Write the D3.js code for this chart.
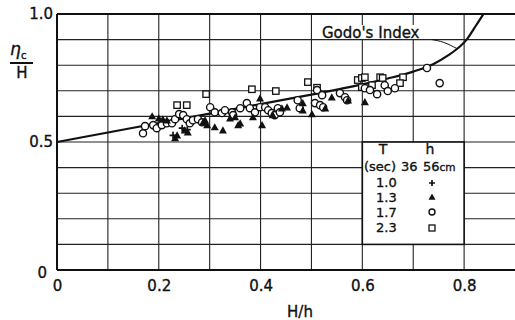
<!DOCTYPE html>
<html><head><meta charset="utf-8">
<script src="https://cdn.jsdelivr.net/npm/d3@7"></script>
<style>
body{margin:0;background:#fff}
svg{display:block}
text{font-family:"DejaVu Sans",sans-serif;fill:#111;stroke:#111;stroke-width:0.35px}
</style>
</head><body>
<svg id="c" width="515" height="320"></svg>
<script>
// ---- data ----
const xTicks = [0, 0.2, 0.4, 0.6, 0.8];
const yTicks = [0, 0.5, 1.0];
const gridX = [0.1,0.2,0.3,0.4,0.5,0.6,0.7,0.8];
const gridY = [0.1,0.2,0.3,0.4,0.5,0.6,0.7,0.8,0.9];

const periods = ["1.0", "1.3", "1.7", "2.3"];

// T = 1.0 s (+)
const plusPts = [[0.228,0.526],[0.246,0.554],[0.256,0.548]];
// T = 1.3 s (filled triangle)
const triPts = [[0.187,0.601],[0.200,0.593],[0.208,0.589],[0.216,0.585],[0.232,0.515],[0.236,0.526],
  [0.251,0.546],[0.257,0.538],[0.287,0.577],[0.291,0.585],[0.295,0.566],[0.310,0.558],[0.326,0.546],
  [0.340,0.593],[0.350,0.597],[0.356,0.566],[0.360,0.573],[0.385,0.597],[0.399,0.671],[0.403,0.566],
  [0.424,0.605],[0.442,0.632],[0.452,0.636],[0.483,0.652],[0.483,0.624],[0.501,0.609],[0.527,0.632],
  [0.540,0.675],[0.572,0.663],[0.605,0.656]];
// T = 1.7 s (open circle)
const circPts = [[0.173,0.562],[0.169,0.534],[0.189,0.566],[0.196,0.554],[0.206,0.566],[0.216,0.573],
  [0.226,0.573],[0.232,0.589],[0.240,0.609],[0.248,0.605],[0.255,0.589],[0.261,0.573],[0.267,0.585],
  [0.277,0.589],[0.285,0.577],[0.301,0.636],[0.310,0.616],[0.324,0.613],[0.330,0.624],[0.344,0.616],
  [0.346,0.605],[0.360,0.632],[0.373,0.652],[0.379,0.632],[0.389,0.616],[0.399,0.636],[0.409,0.636],
  [0.415,0.624],[0.422,0.613],[0.428,0.605],[0.434,0.632],[0.438,0.616],[0.473,0.663],[0.477,0.632],
  [0.511,0.703],[0.521,0.683],[0.507,0.652],[0.517,0.644],[0.523,0.636],[0.556,0.691],[0.566,0.675],
  [0.570,0.663],[0.605,0.710],[0.615,0.703],[0.629,0.687],[0.644,0.722],[0.650,0.699],[0.664,0.710],
  [0.727,0.789],[0.752,0.730]];
// T = 2.3 s (open square)
const sqPts = [[0.236,0.644],[0.255,0.644],[0.293,0.687],[0.383,0.706],[0.430,0.699],[0.493,0.734],
  [0.511,0.712],[0.591,0.742],[0.599,0.750],[0.605,0.753],[0.599,0.714],[0.611,0.714],[0.619,0.722],
  [0.635,0.753],[0.640,0.750],[0.680,0.753],[0.674,0.730]];

// Godo's index curve
const godoX = [0, 0.1, 0.2, 0.3, 0.4, 0.5, 0.6, 0.65, 0.7, 0.74, 0.77, 0.79, 0.805, 0.82, 0.83, 0.838];
const godoY = [0.5, 0.537, 0.574, 0.611, 0.648, 0.685, 0.725, 0.748, 0.775, 0.805, 0.84, 0.87, 0.9, 0.945, 0.975, 1.0];
// pointer from label to curve
const pointerX = [0.737, 0.760, 0.786];
const pointerY = [0.900, 0.889, 0.865];

// ---- drawing ----
const svg = d3.select("#c");
const x = d3.scaleLinear().domain([0, 0.9]).range([57, 515]);
const y = d3.scaleLinear().domain([0, 1]).range([270, 14]);

// grid
svg.append("g").selectAll("line").data(gridX).join("line")
  .attr("x1", d => x(d)).attr("x2", d => x(d)).attr("y1", y(1)).attr("y2", y(0))
  .attr("stroke", "#222").attr("stroke-width", 1.1);
svg.append("g").selectAll("line").data(gridY).join("line")
  .attr("x1", x(0)).attr("x2", 515).attr("y1", d => y(d)).attr("y2", d => y(d))
  .attr("stroke", "#222").attr("stroke-width", 1.1);

// frame
svg.append("line").attr("x1", x(0)).attr("x2", 515).attr("y1", y(1)).attr("y2", y(1)).attr("stroke", "#111").attr("stroke-width", 2);
svg.append("line").attr("x1", x(0)).attr("x2", 515).attr("y1", y(0)).attr("y2", y(0)).attr("stroke", "#111").attr("stroke-width", 2);
svg.append("line").attr("x1", x(0)).attr("x2", x(0)).attr("y1", y(1)).attr("y2", y(0)).attr("stroke", "#111").attr("stroke-width", 2);

// axes labels
const xAxis = svg.append("g").attr("transform", `translate(0,${y(0)})`)
  .call(d3.axisBottom(x).tickValues(xTicks).tickSize(0).tickPadding(10).tickFormat(d => d === 0 ? "0" : d3.format(".1f")(d)));
xAxis.select(".domain").remove();
xAxis.selectAll("text").attr("font-size", 15).attr("font-family", "DejaVu Sans").attr("fill", "#111");

const yAxis = svg.append("g").attr("transform", `translate(${x(0)},0)`)
  .call(d3.axisLeft(y).tickValues(yTicks).tickSize(0).tickPadding(4).tickFormat(d => d === 0 ? "0" : d3.format(".1f")(d)));
yAxis.select(".domain").remove();
yAxis.selectAll("text").attr("font-size", 15).attr("font-family", "DejaVu Sans").attr("fill", "#111");
yAxis.selectAll(".tick").filter(d => d === 0).select("text").attr("x", -10).attr("dy", "0.5em");

// axis titles
svg.append("text").attr("x", 300).attr("y", 317).attr("text-anchor", "middle").attr("font-size", 15).text("H/h");
svg.append("text").attr("x", 10).attr("y", 55).attr("font-size", 17).attr("font-style", "italic").text("η");
svg.append("text").attr("x", 21).attr("y", 59).attr("font-size", 10).text("c");
svg.append("line").attr("x1", 10).attr("x2", 33).attr("y1", 63).attr("y2", 63).attr("stroke", "#111").attr("stroke-width", 2);
svg.append("text").attr("x", 22).attr("y", 78).attr("text-anchor", "middle").attr("font-size", 15).text("H");

// Godo curve
const line = d3.line().curve(d3.curveMonotoneX).x(d => x(d[0])).y(d => y(d[1]));
svg.append("path").datum(godoX.map((v, i) => [v, godoY[i]])).attr("d", line)
  .attr("fill", "none").attr("stroke", "#111").attr("stroke-width", 2.2);
const pline = d3.line().curve(d3.curveNatural).x(d => x(d[0])).y(d => y(d[1]));
svg.append("path").datum(pointerX.map((v, i) => [v, pointerY[i]])).attr("d", pline)
  .attr("fill", "none").attr("stroke", "#111").attr("stroke-width", 1);
svg.append("rect").attr("x", 320).attr("y", 25).attr("width", 104).attr("height", 14).attr("fill", "#fff");
svg.append("text").attr("x", 322).attr("y", 38).attr("font-size", 15).text("Godo's Index");

// legend box
const lg = svg.append("g");
lg.append("rect").attr("x", x(0.6)).attr("y", y(0.5)).attr("width", x(0.8) - x(0.6)).attr("height", y(0.1) - y(0.5))
  .attr("fill", "#fff").attr("stroke", "#111").attr("stroke-width", 1.6);
lg.append("text").attr("x", 383).attr("y", 154).attr("text-anchor", "middle").attr("font-size", 14).text("T");
lg.append("text").attr("x", 430).attr("y", 154).attr("text-anchor", "middle").attr("font-size", 14).text("h");
const hdr = lg.append("text").attr("y", 171).attr("font-size", 13);
hdr.append("tspan").attr("x", 364).text("(sec)");
hdr.append("tspan").attr("x", 401).text("36");
hdr.append("tspan").attr("x", 423).text("56");
hdr.append("tspan").attr("font-size", 10.5).text("cm");
const rowY = [187, 201.5, 216.5, 232];
lg.selectAll("text.per").data(periods).join("text").attr("class", "per")
  .attr("x", 376).attr("y", (d, i) => rowY[i]).attr("font-size", 13).text(d => d);

// symbols
const symX = 432;
function plus(g, cx, cy, s) {
  g.append("path").attr("d", `M${cx - s},${cy}H${cx + s}M${cx},${cy - s}V${cy + s}`).attr("stroke", "#111").attr("stroke-width", 1.7);
}
function tri(g, cx, cy, s) {
  g.append("path").attr("d", `M${cx},${cy - s}L${cx + s},${cy + s * 0.8}L${cx - s},${cy + s * 0.8}Z`).attr("fill", "#111");
}
function circ(g, cx, cy, r) {
  g.append("circle").attr("cx", cx).attr("cy", cy).attr("r", r).attr("fill", "#fff").attr("stroke", "#111").attr("stroke-width", 1.4);
}
function sq(g, cx, cy, s) {
  g.append("rect").attr("x", cx - s).attr("y", cy - s).attr("width", 2 * s).attr("height", 2 * s).attr("fill", "#fff").attr("stroke", "#111").attr("stroke-width", 1.3);
}
plus(lg, symX, 183, 3);
tri(lg, symX, 197, 3.5);
circ(lg, symX, 212, 3);
sq(lg, symX, 228, 3);

// data points
const pg = svg.append("g");
sqPts.forEach(d => sq(pg, x(d[0]), y(d[1]), 3.2));
circPts.forEach(d => circ(pg, x(d[0]), y(d[1]), 3.6));
triPts.forEach(d => tri(pg, x(d[0]), y(d[1]), 4));
plusPts.forEach(d => plus(pg, x(d[0]), y(d[1]), 3.5));
</script>
</body></html>
